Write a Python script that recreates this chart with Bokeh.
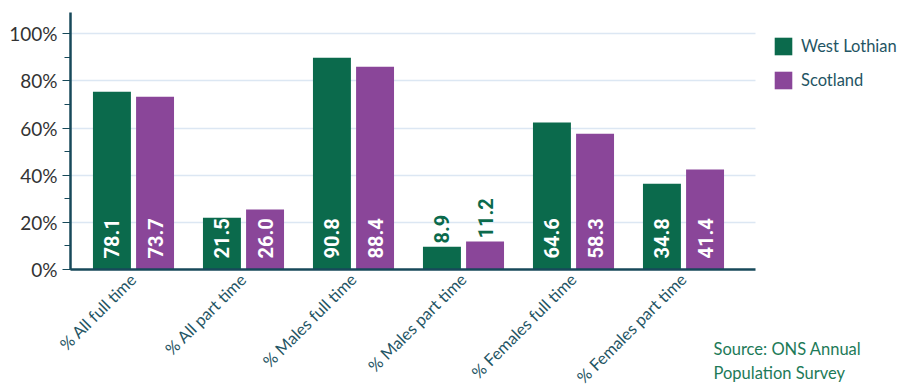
import math
from bokeh.plotting import figure
from bokeh.models import (ColumnDataSource, Range1d, Legend, LegendItem, Label,
                          SingleIntervalTicker, FixedTicker)
from bokeh.core.properties import value
from bokeh.embed import file_html
from bokeh.resources import INLINE

# ---- data ----
categories = ["% All full time", "% All part time", "% Males full time",
              "% Males part time", "% Females full time", "% Females part time"]
series_names = ["West Lothian", "Scotland"]
west_lothian = [75.4, 22.0, 89.8, 9.7, 62.3, 36.4]
scotland = [73.3, 25.4, 86.0, 11.9, 57.6, 42.4]
west_lothian_labels = ["78.1", "21.5", "90.8", "8.9", "64.6", "34.8"]
scotland_labels = ["73.7", "26.0", "88.4", "11.2", "58.3", "41.4"]
y_ticks = [0, 20, 40, 60, 80, 100]
source_note = "Source: ONS Annual\nPopulation Survey"

GREEN = "#0b6a4c"
PURPLE = "#8a4699"
AXIS = "#17495a"
TEAL_TEXT = "#1f5564"
GRID = "#dce7f3"

# ---- layout (screen geometry) ----
W, H = 903, 389
X_RANGE = (-1.209, 7.0)       # one unit per category group
Y_RANGE = (-50.9, 114.1)      # percent
X_AXIS_SPAN = (-0.573, 5.655)
Y_AXIS_SPAN = (0, 109)
OFF, BW = 0.196, 0.345

idx = list(range(len(categories)))


def label_pos(vals):
    return [4.7 if v > 15 else v + 1.3 for v in vals]


def label_col(vals):
    return ["white" if v > 15 else GREEN for v in vals]


src = ColumnDataSource(dict(
    x_wl=[i - OFF for i in idx], x_sc=[i + OFF for i in idx],
    wl=west_lothian, sc=scotland,
    wl_lab=west_lothian_labels, sc_lab=scotland_labels,
    wl_ly=label_pos(west_lothian), sc_ly=label_pos(scotland),
    wl_lc=label_col(west_lothian), sc_lc=label_col(scotland),
))

p = figure(x_range=Range1d(*X_RANGE), y_range=Range1d(*Y_RANGE),
           width=W, height=H, output_backend="svg", toolbar_location=None,
           min_border_left=0, min_border_right=0,
           min_border_top=0, min_border_bottom=0)
p.outline_line_color = None
p.background_fill_color = "white"
p.border_fill_color = "white"

# grid lines (horizontal, stop at the axis end)
p.xgrid.visible = False
yg = p.ygrid[0]
grid_props = yg.properties()
if "cross_bounds" in grid_props:
    yg.ticker = FixedTicker(ticks=y_ticks[1:])
    yg.bounds = (y_ticks[1], y_ticks[-1])
    yg.cross_bounds = X_AXIS_SPAN
    yg.grid_line_color = GRID
    yg.grid_line_width = 1.5
else:
    yg.visible = False
    p.segment(x0=[X_AXIS_SPAN[0]] * (len(y_ticks) - 1),
              x1=[X_AXIS_SPAN[1]] * (len(y_ticks) - 1),
              y0=y_ticks[1:], y1=y_ticks[1:], line_color=GRID, line_width=1.5)

r1 = p.vbar(x="x_wl", top="wl", width=BW, source=src,
            fill_color=GREEN, line_color=None)
r2 = p.vbar(x="x_sc", top="sc", width=BW, source=src,
            fill_color=PURPLE, line_color=None)

for col_x, col_t, col_y, col_c in [("x_wl", "wl_lab", "wl_ly", "wl_lc"),
                                   ("x_sc", "sc_lab", "sc_ly", "sc_lc")]:
    p.text(x=col_x, y=col_y, text=col_t, source=src, angle=math.pi / 2,
           text_align="left", text_baseline="middle", text_color=col_c,
           text_font=value("Roboto"), text_font_style="bold",
           text_font_size="20px")

# y axis
yax = p.yaxis[0]
yax.fixed_location = X_AXIS_SPAN[0]
yax.bounds = Y_AXIS_SPAN
yax.ticker = SingleIntervalTicker(interval=20, num_minor_ticks=2)
yax.major_label_overrides = {t: f"{t}%" for t in y_ticks}
yax.axis_line_color = AXIS
yax.axis_line_width = 2.5
yax.major_tick_line_color = AXIS
yax.minor_tick_line_color = AXIS
yax.major_tick_in = 0
yax.major_tick_out = 8
yax.minor_tick_in = 0
yax.minor_tick_out = 6
yax.major_label_standoff = 5
yax.major_label_text_font = "Lato"
yax.major_label_text_font_size = "19px"
yax.major_label_text_color = "#333333"

# x axis
xax = p.xaxis[0]
xax.fixed_location = 0
xax.bounds = X_AXIS_SPAN
xax.ticker = FixedTicker(ticks=idx)
xax.major_label_overrides = {i: c for i, c in zip(idx, categories)}
xax.axis_line_color = AXIS
xax.axis_line_width = 2.5
xax.major_tick_line_color = None
xax.minor_tick_line_color = None
xax.major_tick_in = 0
xax.major_tick_out = 0
xax.major_label_orientation = math.pi / 4
xax.major_label_standoff = 7
xax.major_label_text_font = "Lato"
xax.major_label_text_font_size = "16.5px"
xax.major_label_text_color = TEAL_TEXT

legend = Legend(items=[LegendItem(label=series_names[0], renderers=[r1]),
                       LegendItem(label=series_names[1], renderers=[r2])],
                location=(772, 298), glyph_width=22, glyph_height=22,
                label_height=22, spacing=12, padding=0, margin=0,
                border_line_color=None, background_fill_alpha=0,
                label_standoff=7, label_text_font="Lato",
                label_text_font_size="16.5px", label_text_color=TEAL_TEXT)
p.add_layout(legend)

p.add_layout(Label(x=713, y=51, x_units="screen", y_units="screen",
                   text=source_note, text_baseline="top", text_align="left",
                   text_font="Lato", text_font_size="16.5px",
                   text_color="#1d7a58", text_line_height=1.2))

open("out.html", "w").write(file_html(p, INLINE))
